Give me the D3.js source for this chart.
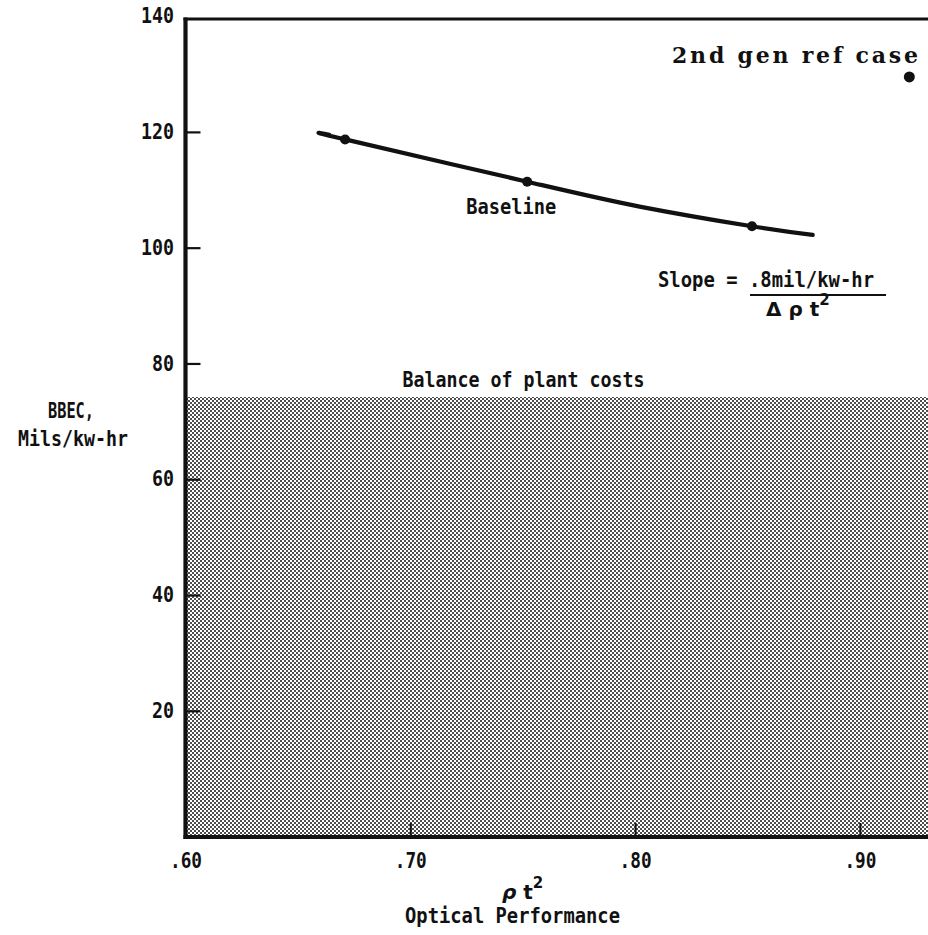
<!DOCTYPE html>
<html>
<head>
<meta charset="utf-8">
<script src="https://cdn.jsdelivr.net/npm/d3@7"></script>
<style>
  html, body { margin: 0; padding: 0; background: #fff; }
  svg { display: block; }
  text { font-family: "DejaVu Sans Mono", "Liberation Mono", monospace; font-weight: bold; fill: #111; }
</style>
</head>
<body>
<svg id="chart" width="928" height="935"></svg>
<script>
// Busbar energy cost vs. optical performance
const xTicks = [0.60, 0.70, 0.80, 0.90];
const xTickLabels = [".60", ".70", ".80", ".90"];
const yTicks = [20, 40, 60, 80, 100, 120, 140];

// cost curve (line) and its marked cases
const curveX = [0.664, 0.671, 0.752, 0.802, 0.852, 0.879];
const curveY = [119.5, 118.7, 111.4, 107.1, 103.7, 102.2];
const caseX = [0.671, 0.752, 0.852];
const caseY = [118.7, 111.4, 103.7];

// second generation reference case
const refX = [0.922];
const refY = [129.5];

// balance of plant cost band
const bopLevel = [74.2];

const FS = 21;
const xMin = 0.60, xMax = 0.9303, yMin = -1.8, yMax = 139.5;
const x = d3.scaleLinear().domain([xMin, xMax]).range([185.5, 928]);
const y = d3.scaleLinear().domain([yMin, yMax]).range([837, 19]);

const svg = d3.select("#chart");

// halftone dot pattern for the shaded band
const defs = svg.append("defs");
const pat = defs.append("pattern")
  .attr("id", "halftone").attr("patternUnits", "userSpaceOnUse")
  .attr("width", 4).attr("height", 4);
pat.append("rect").attr("width", 4).attr("height", 4).attr("fill", "#fff");
pat.append("circle").attr("cx", 1).attr("cy", 1).attr("r", 0.92).attr("fill", "#000");
pat.append("circle").attr("cx", 3).attr("cy", 3).attr("r", 0.92).attr("fill", "#000");

svg.append("rect")
  .attr("x", x(xMin)).attr("y", y(bopLevel[0]))
  .attr("width", x(xMax) - x(xMin)).attr("height", y(yMin) - y(bopLevel[0]))
  .attr("fill", "url(#halftone)");

svg.append("text")
  .attr("x", x(0.6965)).attr("y", y(bopLevel[0]) - 10)
  .attr("font-size", FS).attr("textLength", 242).attr("lengthAdjust", "spacingAndGlyphs")
  .text("Balance of plant costs");

// axes with inward ticks
const yAxis = d3.axisLeft(y).tickValues(yTicks).tickSizeInner(-15).tickSizeOuter(0).tickPadding(11.5);
const gy = svg.append("g").attr("transform", `translate(${x(xMin)},0)`).call(yAxis);
gy.select(".domain").remove();
gy.selectAll(".tick line").attr("stroke", "#111").attr("stroke-width", 2.2)
  .filter(d => d === 140).remove();
gy.selectAll(".tick text").attr("font-size", FS).attr("fill", "#111")
  .attr("textLength", d => String(d).length * 11).attr("lengthAdjust", "spacingAndGlyphs")
  .style("font-family", "DejaVu Sans Mono").style("font-weight", "bold");

const xAxis = d3.axisBottom(x).tickValues(xTicks).tickFormat((d, i) => xTickLabels[i])
  .tickSizeInner(-14).tickSizeOuter(0).tickPadding(16);
const gx = svg.append("g").attr("transform", `translate(0,${y(yMin)})`).call(xAxis);
gx.select(".domain").remove();
gx.selectAll(".tick line").attr("stroke", "#111").attr("stroke-width", 2)
  .filter(d => d === 0.60).remove();
gx.selectAll(".tick text").attr("font-size", FS).attr("fill", "#111")
  .attr("textLength", 32).attr("lengthAdjust", "spacingAndGlyphs")
  .style("font-family", "DejaVu Sans Mono").style("font-weight", "bold");

// frame: left, top and bottom rules
const frame = svg.append("g").attr("stroke", "#111").attr("fill", "none");
frame.append("line").attr("x1", x(xMin)).attr("x2", x(xMin))
  .attr("y1", y(yMax) - 1.5).attr("y2", y(yMin) + 2).attr("stroke-width", 4.2);
frame.append("line").attr("x1", x(xMin) - 2).attr("x2", x(xMax))
  .attr("y1", y(yMax)).attr("y2", y(yMax)).attr("stroke-width", 3);
frame.append("line").attr("x1", x(xMin) - 2).attr("x2", x(xMax))
  .attr("y1", y(yMin)).attr("y2", y(yMin)).attr("stroke-width", 4);

// cost curve
const line = d3.line().x(d => x(d[0])).y(d => y(d[1])).curve(d3.curveNatural);
svg.append("path")
  .datum(curveX.map((v, i) => [v, curveY[i]]))
  .attr("d", line).attr("fill", "none").attr("stroke", "#111")
  .attr("stroke-width", 4.2).attr("stroke-linecap", "round");

svg.selectAll(".case").data(caseX.map((v, i) => [v, caseY[i]])).enter()
  .append("circle").attr("class", "case")
  .attr("cx", d => x(d[0])).attr("cy", d => y(d[1])).attr("r", 5).attr("fill", "#111");

svg.append("text").attr("x", x(0.752) - 61).attr("y", y(111.4) + 32)
  .attr("font-size", FS).attr("textLength", 90).attr("lengthAdjust", "spacingAndGlyphs")
  .text("Baseline");

// reference case point and label
svg.append("circle").attr("cx", x(refX[0])).attr("cy", y(refY[0])).attr("r", 5.5).attr("fill", "#111");
svg.append("text").attr("x", 672).attr("y", 63)
  .attr("font-size", 22).attr("textLength", 246).attr("lengthAdjust", "spacing")
  .style("font-family", "DejaVu Serif").style("font-weight", "bold")
  .text("2nd gen ref case");

// slope annotation
svg.append("text").attr("x", 658).attr("y", 287).attr("font-size", FS)
  .attr("textLength", 216).attr("lengthAdjust", "spacingAndGlyphs")
  .text("Slope = .8mil/kw-hr");
svg.append("line").attr("x1", 750).attr("x2", 886).attr("y1", 295).attr("y2", 295)
  .attr("stroke", "#111").attr("stroke-width", 2);
const frac = svg.append("text").attr("x", 766).attr("y", 316).attr("font-size", 20)
  .style("font-family", "DejaVu Sans").style("font-weight", "bold");
frac.append("tspan").text("Δ ρ t");
frac.append("tspan").attr("dy", -11).attr("font-size", 15).text("2");

// axis titles
svg.append("text").attr("x", 71).attr("y", 418).attr("text-anchor", "middle")
  .attr("font-size", FS).attr("textLength", 46).attr("lengthAdjust", "spacingAndGlyphs").text("BBEC,");
svg.append("text").attr("x", 73).attr("y", 446).attr("text-anchor", "middle")
  .attr("font-size", FS).attr("textLength", 110).attr("lengthAdjust", "spacingAndGlyphs").text("Mils/kw-hr");

const xt = svg.append("text").attr("x", 502).attr("y", 899).attr("font-size", 20)
  .style("font-family", "DejaVu Sans").style("font-weight", "bold");
xt.append("tspan").attr("font-style", "italic").text("ρ");
xt.append("tspan").text(" t");
xt.append("tspan").attr("dy", -11).attr("font-size", 15).text("2");
svg.append("text").attr("x", 405).attr("y", 923)
  .attr("font-size", FS).attr("textLength", 215).attr("lengthAdjust", "spacingAndGlyphs")
  .text("Optical Performance");
</script>
</body>
</html>
